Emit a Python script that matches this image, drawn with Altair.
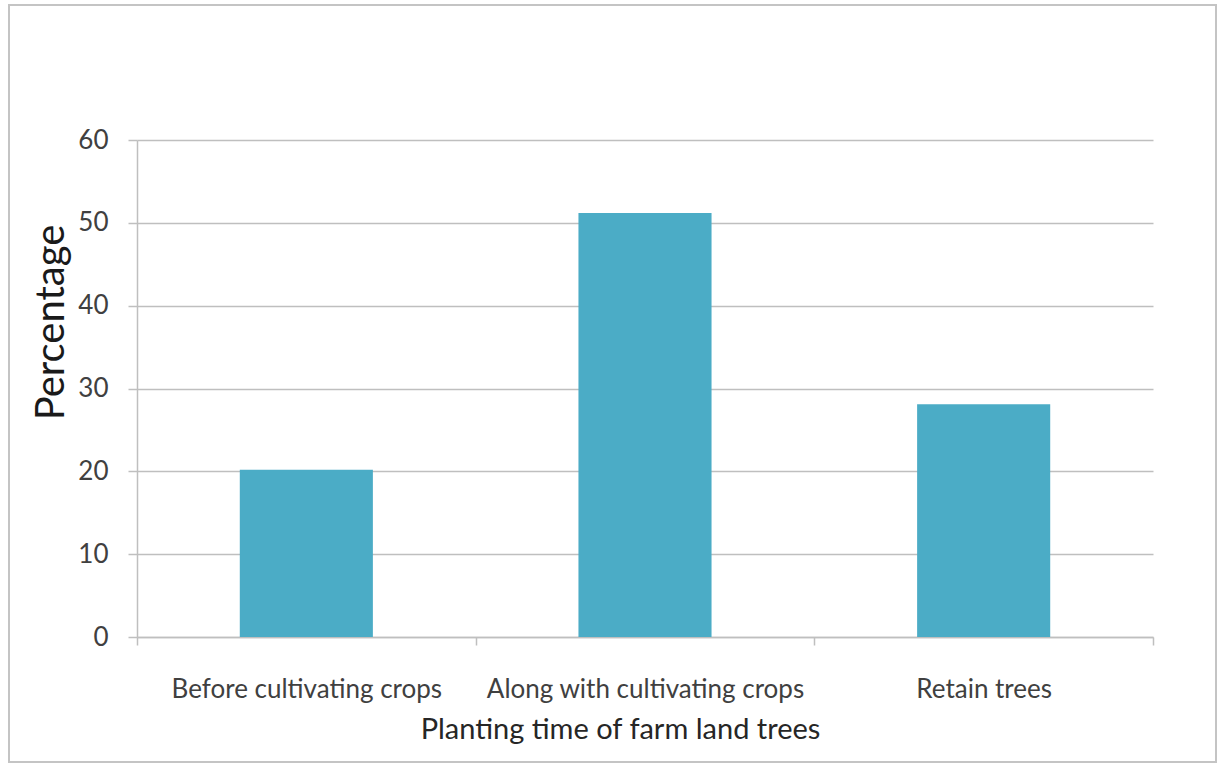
import altair as alt
import pandas as pd

categories = ["Before cultivating crops", "Along with cultivating crops", "Retain trees"]
percentages = [20.2, 51.2, 28.1]
y_ticks = [0, 10, 20, 30, 40, 50, 60]

df = pd.DataFrame({"category": categories, "pct": percentages})

FONT = "Lato"
GRID = "#bfbfbf"
TEXT = "#404040"

x_enc = alt.X(
    "category:N",
    sort=None,
    scale=alt.Scale(paddingInner=0, paddingOuter=0),
    axis=alt.Axis(
        title="Planting time of farm land trees",
        labelAngle=0,
        labelFont=FONT,
        labelFontSize=26,
        labelColor=TEXT,
        labelLimit=0,
        labelBaseline="alphabetic",
        labelPadding=52,
        tickBand="extent",
        tickSize=8,
        tickColor=GRID,
        tickWidth=1.5,
        domainColor=GRID,
        domainWidth=1.5,
        grid=False,
        titleFont=FONT,
        titleFontSize=29,
        titleFontWeight="normal",
        titleColor="#262626",
        titleX=483,
        titleY=101,
        titleAlign="center",
        titleBaseline="alphabetic",
        titleAnchor="start",
    ),
)

y_enc = alt.Y(
    "pct:Q",
    scale=alt.Scale(domain=[0, 60], nice=False),
    axis=alt.Axis(
        title="Percentage",
        values=y_ticks,
        labelFont=FONT,
        labelFontSize=26,
        labelColor=TEXT,
        labelPadding=20,
        tickSize=9,
        tickColor=GRID,
        tickWidth=1.5,
        domainColor=GRID,
        domainWidth=1.5,
        grid=True,
        gridColor=GRID,
        gridWidth=1.5,
        titleFont=FONT,
        titleFontSize=40,
        titleFontWeight="normal",
        titleColor="#1a1a1a",
        titleAngle=-90,
        titleX=-74,
        titleY=182,
        titleAlign="center",
        titleBaseline="alphabetic",
        titleAnchor="start",
    ),
)

bars = alt.Chart(df).mark_bar(color="#4bacc6", width={"band": 0.393}).encode(x=x_enc, y=y_enc)

frame_df = pd.DataFrame({"k": [0]})
frame = alt.Chart(frame_df).mark_rect(
    fill=None, stroke="#c4c4c4", strokeWidth=2, clip=False
).encode(
    x=alt.value(-128), x2=alt.value(1079), y=alt.value(-135), y2=alt.value(622)
)

chart = alt.layer(bars, frame).properties(
    width=1016,
    height=497,
    autosize=alt.AutoSizeParams(type="none"),
    padding={"left": 137, "top": 140, "right": 69, "bottom": 126},
    background="white",
).configure_view(stroke=None)

chart.save("out.html", embed_options={"renderer": "svg", "actions": False})
